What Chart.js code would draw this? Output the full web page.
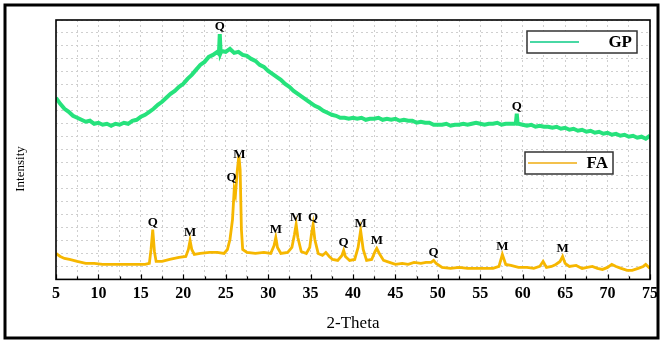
<!DOCTYPE html>
<html>
<head>
<meta charset="utf-8">
<script src="https://cdn.jsdelivr.net/npm/chart.js@4/dist/chart.umd.min.js"></script>
<style>
  html, body { margin: 0; padding: 0; background: #fff; }
</style>
</head>
<body>
<canvas id="xrd" width="663" height="344"></canvas>
<script>
// x axis range (2-Theta, degrees) and tick step
const thetaRange = [5, 75];
const thetaStep = 2.5;

// intensity axis (arbitrary units, no tick labels shown)
const intensityRange = [0, 260];
const intensityStep = 13;

// GP pattern: [2-theta, intensity]
const gpPattern = [
  [5,182],[5.5,176],[6,171],[6.5,168],[7,164],[7.5,162],[8,160],[8.5,158],[9,159],[9.5,156],
  [10,157],[10.5,155],[11,156],[11.5,154],[12,156],[12.5,155],[13,157],[13.5,156],[14,159],[14.5,160],
  [15,163],[15.5,165],[16,168],[16.5,171],[17,175],[17.5,178],[18,182],[18.5,186],[19,189],[19.5,193],
  [20,196],[20.5,201],[21,205],[21.5,210],[22,215],[22.5,218],[23,223],[23.5,225],[24,228],[24.2,226],
  [24.3,246],[24.4,227],[24.5,229],[25,228],[25.5,231],[26,227],[26.5,228],[27,225],[27.5,224],[28,221],
  [28.5,219],[29,215],[29.5,213],[30,209],[30.5,206],[31,203],[31.5,200],[32,196],[32.5,193],[33,189],
  [33.5,186],[34,183],[34.5,180],[35,177],[35.5,174],[36,172],[36.5,169],[37,167],[37.5,165],[38,164],
  [38.5,162],[39,162],[39.5,161],[40,162],[40.5,161],[41,162],[41.5,160],[42,161],[42.5,161],[43,162],
  [43.5,160],[44,161],[44.5,160],[45,161],[45.5,159],[46,160],[46.5,159],[47,159],[47.5,157],[48,158],
  [48.5,157],[49,157],[49.5,155],[50,155],[50.5,155],[51,156],[51.5,154],[52,155],[52.5,155],[53,156],
  [53.5,155],[54,156],[54.5,157],[55,156],[55.5,155],[56,156],[56.5,156],[57,157],[57.5,155],[58,156],
  [58.5,156],[59,156],[59.2,157],[59.3,166],[59.4,156],[59.5,156],[60,155],[60.5,154],[61,155],[61.5,153],
  [62,154],[62.5,153],[63,153],[63.5,152],[64,153],[64.5,151],[65,152],[65.5,150],[66,151],[66.5,149],
  [67,150],[67.5,148],[68,149],[68.5,147],[69,148],[69.5,146],[70,147],[70.5,145],[71,146],[71.5,144],
  [72,145],[72.5,143],[73,144],[73.5,142],[74,143],[74.5,141],[75,144]
];

// FA pattern: [2-theta, intensity]
const faPattern = [
  [5,26],[5.5,23],[6,21],[6.6,20],[7.5,18],[8.5,16],[9.5,16],[10.5,15],[11.5,15],[12.5,15],
  [13.5,15],[14.5,15],[15.5,15],[16.0,16],[16.2,30],[16.4,50],[16.6,28],[16.8,18],[17.5,18],[18.4,20],
  [19.5,22],[20.3,23],[20.6,30],[20.8,39],[21.0,30],[21.3,25],[22,26],[23.1,27],[24,27],[24.8,26],
  [25.2,30],[25.5,40],[25.8,60],[26.0,90],[26.15,85],[26.35,108],[26.55,124],[26.7,110],[26.85,50],[27.0,30],
  [27.5,27],[28.5,26],[29.5,27],[30.3,26],[30.7,34],[30.9,42],[31.1,32],[31.5,26],[32.3,27],[32.8,32],
  [33.1,45],[33.3,55],[33.5,42],[33.9,28],[34.5,26],[34.9,32],[35.1,45],[35.3,55],[35.5,40],[35.9,26],
  [36.4,24],[36.8,27],[37.2,23],[37.6,20],[38.2,19],[38.7,24],[38.9,29],[39.1,23],[39.6,19],[40.2,20],
  [40.6,32],[40.9,49],[41.2,30],[41.6,19],[42.2,20],[42.6,28],[42.8,31],[43.1,26],[43.6,19],[44.3,17],
  [45,15],[45.8,16],[46.5,15],[47.2,17],[48,16],[48.6,17],[49.2,17],[49.5,19],[49.8,16],[50.5,12],
  [51.5,11],[52.5,12],[53.5,11],[54.5,11],[55.5,11],[56.5,11],[57.2,13],[57.6,25],[58.0,15],[58.6,14],
  [59.5,12],[60.5,12],[61.3,11],[62.0,13],[62.4,18],[62.8,12],[63.4,13],[63.9,15],[64.4,18],[64.7,23],
  [65.0,16],[65.5,13],[66.3,14],[67,11],[67.6,12],[68.2,13],[68.8,11],[69.4,10],[70.0,12],[70.5,15],
  [71,13],[71.6,11],[72.3,9],[72.9,9],[73.6,11],[74.2,13],[74.5,15],[75,11]
];

// phase labels (Q = quartz, M = mullite): [2-theta, intensity, label]
const gpPeaks = [[24.3, 246, 'Q'], [59.3, 166, 'Q']];
const faPeaks = [
  [16.4, 50, 'Q'], [20.8, 39, 'M'], [25.7, 95, 'Q'], [26.6, 118, 'M'], [30.9, 42, 'M'],
  [33.3, 55, 'M'], [35.3, 55, 'Q'], [38.9, 29, 'Q'], [40.9, 49, 'M'], [42.8, 31, 'M'],
  [49.5, 19, 'Q'], [57.6, 25, 'M'], [64.7, 23, 'M']
];

const serif = '"Liberation Serif", "Times New Roman", serif';
const gridColor = '#cfcfcf';

const toPoints = rows => rows.map(([x, y]) => ({ x, y }));

// legend boxes, peak labels, frames and inward ticks
const legendBoxes = [
  { left: 527, top: 31, width: 110, height: 22, lineColor: '#48d8a4' },
  { left: 525, top: 152, width: 88, height: 22, lineColor: '#f3c14c' }
];

const decorations = {
  id: 'decorations',
  afterDatasetsDraw(chart) {
    const { ctx, chartArea: a, scales: { x, y } } = chart;
    ctx.save();

    // tick marks pointing into the plot
    ctx.strokeStyle = '#000';
    ctx.lineWidth = 1.2;
    x.ticks.forEach(t => {
      const px = Math.round(x.getPixelForValue(t.value)) + 0.5;
      const len = t.value % 5 === 0 ? 5 : 3;
      ctx.beginPath();
      ctx.moveTo(px, a.bottom);
      ctx.lineTo(px, a.bottom - len);
      ctx.stroke();
    });

    // plot frame
    ctx.lineWidth = 1.6;
    ctx.strokeRect(a.left, a.top, a.width, a.height);

    // outer frame
    ctx.lineWidth = 3;
    ctx.strokeRect(5, 5, 653, 333);

    // y title
    ctx.fillStyle = '#000';
    ctx.font = '13px ' + serif;
    ctx.textAlign = 'center';
    ctx.textBaseline = 'middle';
    ctx.translate(21, 169);
    ctx.rotate(-Math.PI / 2);
    ctx.fillText('Intensity', 0, 0);
    ctx.setTransform(1, 0, 0, 1, 0, 0);

    // peak labels
    ctx.font = 'bold 13px ' + serif;
    ctx.textAlign = 'center';
    ctx.textBaseline = 'alphabetic';
    gpPeaks.concat(faPeaks).forEach(([theta, inten, txt]) => {
      ctx.fillText(txt, x.getPixelForValue(theta), y.getPixelForValue(inten) - 4);
    });

    // legends, one box per series
    chart.data.datasets.forEach((ds, i) => {
      const b = legendBoxes[i];
      ctx.fillStyle = '#fff';
      ctx.fillRect(b.left, b.top, b.width, b.height);
      ctx.strokeStyle = '#333';
      ctx.lineWidth = 1.5;
      ctx.strokeRect(b.left, b.top, b.width, b.height);
      ctx.strokeStyle = b.lineColor;
      ctx.lineWidth = 2;
      ctx.beginPath();
      ctx.moveTo(b.left + 3, b.top + b.height / 2);
      ctx.lineTo(b.left + 52, b.top + b.height / 2);
      ctx.stroke();
      ctx.fillStyle = '#000';
      ctx.font = 'bold 17px ' + serif;
      ctx.textAlign = 'right';
      ctx.textBaseline = 'middle';
      ctx.fillText(ds.label, b.left + b.width - 5, b.top + b.height / 2 + 1);
    });

    ctx.restore();
  }
};

new Chart(document.getElementById('xrd'), {
  type: 'line',
  data: {
    datasets: [{
      label: 'GP',
      data: toPoints(gpPattern),
      borderColor: '#26e27c',
      borderWidth: 4,
      pointRadius: 0,
      tension: 0
    }, {
      label: 'FA',
      data: toPoints(faPattern),
      borderColor: '#f6b700',
      borderWidth: 2.8,
      pointRadius: 0,
      tension: 0
    }]
  },
  options: {
    responsive: false,
    animation: false,
    layout: { padding: { left: 56, right: 11, top: 20, bottom: 10 } },
    plugins: {
      legend: { display: false },
      tooltip: { enabled: false }
    },
    scales: {
      x: {
        type: 'linear',
        min: thetaRange[0],
        max: thetaRange[1],
        ticks: {
          stepSize: thetaStep,
          autoSkip: false,
          maxRotation: 0,
          padding: 5,
          color: '#000',
          font: { family: serif, size: 16, weight: 'bold' },
          callback: v => (v % 5 === 0 ? v : '')
        },
        grid: { color: gridColor, lineWidth: 1, drawTicks: false },
        border: { display: false, dash: [2, 3] },
        title: {
          display: true,
          text: '2-Theta',
          color: '#000',
          font: { family: serif, size: 17 },
          padding: { top: 5, bottom: 0 }
        }
      },
      y: {
        min: intensityRange[0],
        max: intensityRange[1],
        ticks: { display: false, stepSize: intensityStep },
        grid: { color: gridColor, lineWidth: 1, drawTicks: false },
        border: { display: false, dash: [2, 3] }
      }
    }
  },
  plugins: [decorations]
});
</script>
</body>
</html>
